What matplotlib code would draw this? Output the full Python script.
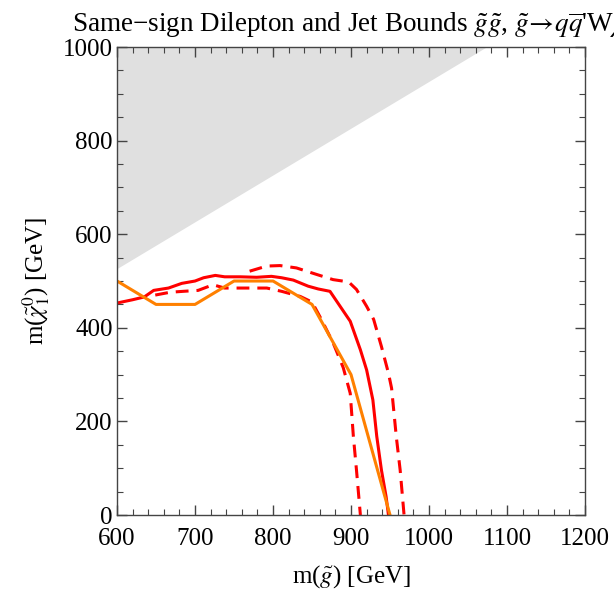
import numpy as np
import matplotlib
matplotlib.use("Agg")
import matplotlib.pyplot as plt
from matplotlib.ticker import MultipleLocator

# kinematically forbidden region (m_chi > m_gluino - 75)
forbidden_x = [600, 1075, 600]
forbidden_y = [525, 1000, 1000]

# observed limit (red solid)
obs_x = [600, 620, 635, 647, 666, 683, 700, 711, 726, 738, 758, 779, 798, 811,
         826, 845, 858, 873, 886, 899, 912, 920, 928, 933, 939, 945, 948]
obs_y = [453, 460, 466, 480, 485, 495, 500, 507, 512, 509, 509, 508, 510, 507,
         502, 489, 483, 478, 446, 414, 353, 310, 246, 168, 96, 39, 0]

# +1 sigma band (red dashed, upper)
up_x = [770, 792, 809, 830, 856, 877, 897, 907, 920, 929, 939, 948, 952, 958, 963, 968]
up_y = [521, 532, 533, 528, 514, 503, 498, 482, 446, 418, 360, 303, 271, 168, 96, 0]

# -1 sigma band (red dashed, lower)
dn_x = [649, 668, 685, 704, 723, 738, 758, 792, 811, 835, 850, 862, 877, 890,
        899, 903, 907, 912]
dn_y = [470, 476, 478, 480, 492, 485, 485, 485, 478, 467, 455, 418, 368, 315,
        260, 168, 96, 0]

# expected / reference curve (orange)
exp_x = [600, 650, 700, 750, 800, 850, 900, 950]
exp_y = [500, 450, 450, 500, 500, 450, 300, 0]

plt.rcParams['font.family'] = ['Liberation Serif', 'DejaVu Serif']
plt.rcParams['mathtext.fontset'] = 'stix'

fig = plt.figure(figsize=(6.14, 5.93), dpi=100)
ax = fig.add_axes([0.1906, 0.1315, 0.7622, 0.7892])

ax.fill(forbidden_x, forbidden_y, color='#e0e0e0', lw=0, zorder=0)

lw = 2.2
ax.plot(obs_x, obs_y, color='#ff0000', lw=lw, solid_joinstyle='round')
ax.plot(up_x, up_y, color='#ff0000', lw=lw, linestyle=(0, (4.2, 2.6)))
ax.plot(dn_x, dn_y, color='#ff0000', lw=lw, linestyle=(0, (4.2, 2.6)))
ax.plot(exp_x, exp_y, color='#ff8000', lw=lw)

ax.set_xlim(600, 1200)
ax.set_ylim(0, 1000)
ax.xaxis.set_major_locator(MultipleLocator(100))
ax.xaxis.set_minor_locator(MultipleLocator(20))
ax.yaxis.set_major_locator(MultipleLocator(200))
ax.yaxis.set_minor_locator(MultipleLocator(50))
ax.tick_params(which='both', direction='in', top=True, right=True,
               colors='#444444', labelcolor='black', labelsize=18)
ax.tick_params(which='major', length=7, width=1, pad=3)
ax.tick_params(axis='x', which='major', pad=9)
ax.tick_params(which='minor', length=4, width=0.8)
for s in ax.spines.values():
    s.set_color('#444444')
    s.set_linewidth(1)

ax.set_xlabel(r'm($\tilde{g}$) [GeV]', fontsize=18, labelpad=10)
ax.set_ylabel(r'm($\tilde{\chi}_1^0$) [GeV]', fontsize=18, labelpad=8)

fig.text(0.117, 0.947,
         'Same\u2212sign Dilepton and Jet Bounds $\\tilde{g}\\tilde{g}$, '
         '$\\tilde{g}\\!\\rightarrow\\! q\\overline{q}$\'W$\\tilde{\\chi}_1^0$',
         fontsize=19.5, ha='left', va='baseline')

fig.savefig('out.png', dpi=100)
